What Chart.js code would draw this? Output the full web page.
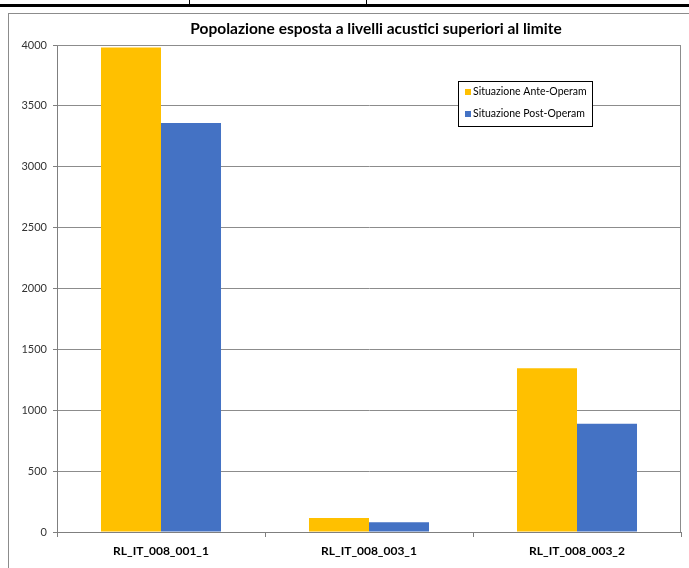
<!DOCTYPE html>
<html>
<head>
<meta charset="utf-8">
<script src="https://cdn.jsdelivr.net/npm/chart.js@4.4.1/dist/chart.umd.min.js"></script>
<style>
  body { margin: 0; background: #fff; }
  #wrap { position: relative; width: 689px; height: 568px; overflow: hidden; }
  #chart { position: absolute; left: 0; top: 0; }
  .line { position: absolute; background: #000; }
  #frame { position: absolute; left: 8px; top: 13px; width: 760px; height: 600px; border: 1px solid #8c8c8c; }
</style>
</head>
<body>
<div id="wrap">
  <div class="line" style="left:0;top:4px;width:689px;height:3px"></div>
  <div class="line" style="left:189px;top:0;width:1px;height:5px"></div>
  <div class="line" style="left:366px;top:0;width:1px;height:5px"></div>
  <div id="frame"></div>
  <canvas id="chart" width="689" height="568"></canvas>
</div>
<script>
const categories = ['RL_IT_008_001_1', 'RL_IT_008_003_1', 'RL_IT_008_003_2'];
const anteOperam = [3980, 115, 1345];
const postOperam = [3360, 80, 890];
const seriesNames = ['Situazione Ante-Operam', 'Situazione Post-Operam'];
const chartTitle = 'Popolazione esposta a livelli acustici superiori al limite';

const font = 'Lato, "Open Sans", sans-serif';

// titolo e legenda disegnati a mano per posizionarli come nell'originale
const extras = {
    id: 'extras',
    afterDraw(chart) {
        const ctx = chart.ctx;
        ctx.save();
        ctx.fillStyle = '#000';
        ctx.font = 'bold 15.5px ' + font;
        ctx.textAlign = 'center';
        ctx.textBaseline = 'middle';
        ctx.fillText(chartTitle, 376, 29);

        // riquadro legenda
        const lx = 458, ly = 81, lw = 134, lh = 45;
        ctx.fillStyle = '#fff';
        ctx.fillRect(lx, ly, lw, lh);
        ctx.strokeStyle = '#000';
        ctx.lineWidth = 1;
        ctx.strokeRect(lx + 0.5, ly + 0.5, lw, lh);
        ctx.font = '10.5px ' + font;
        ctx.textAlign = 'left';
        const colors = ['#FFC000', '#4472C4'];
        seriesNames.forEach((name, i) => {
            const y = ly + 11 + i * 22;
            ctx.fillStyle = colors[i];
            ctx.fillRect(lx + 7, y - 3, 6, 6);
            ctx.fillStyle = '#000';
            ctx.fillText(name, lx + 15, y);
        });
        ctx.restore();
    }
};

new Chart(document.getElementById('chart').getContext('2d'), {
    type: 'bar',
    data: {
        labels: categories,
        datasets: [{
            label: seriesNames[0],
            data: anteOperam,
            backgroundColor: '#FFC000',
            barPercentage: 1,
            categoryPercentage: 0.577
        }, {
            label: seriesNames[1],
            data: postOperam,
            backgroundColor: '#4472C4',
            barPercentage: 1,
            categoryPercentage: 0.577
        }]
    },
    options: {
        responsive: false,
        animation: false,
        layout: {
            padding: { left: 0, right: 8, top: 45, bottom: 0 }
        },
        scales: {
            x: {
                grid: {
                    display: true,
                    drawOnChartArea: false,
                    offset: true,
                    tickLength: 5,
                    tickColor: '#7f7f7f'
                },
                border: { color: '#7f7f7f', width: 1 },
                ticks: {
                    color: '#000',
                    font: { family: font, size: 12, weight: 'bold' },
                    padding: 7
                },
                afterFit(scale) { scale.height = 36; }
            },
            y: {
                min: 0,
                max: 4000,
                ticks: {
                    stepSize: 500,
                    color: '#333',
                    font: { family: font, size: 11 },
                    padding: 6,
                    callback: v => String(v)
                },
                grid: {
                    color: '#8c8c8c',
                    tickLength: 4,
                    tickColor: '#7f7f7f'
                },
                border: { color: '#7f7f7f', width: 1 },
                afterFit(scale) { scale.width = 57; }
            }
        },
        plugins: {
            legend: { display: false },
            title: { display: false },
            tooltip: { enabled: false }
        }
    },
    plugins: [extras, {
        id: 'plotBorder',
        beforeDatasetsDraw(chart) {
            const a = chart.chartArea;
            const ctx = chart.ctx;
            ctx.save();
            ctx.strokeStyle = '#8c8c8c';
            ctx.lineWidth = 1;
            ctx.beginPath();
            ctx.moveTo(a.left, a.top + 0.5);
            ctx.lineTo(a.right - 0.5, a.top + 0.5);
            ctx.lineTo(a.right - 0.5, a.bottom);
            ctx.stroke();
            ctx.restore();
        }
    }]
});
</script>
</body>
</html>
